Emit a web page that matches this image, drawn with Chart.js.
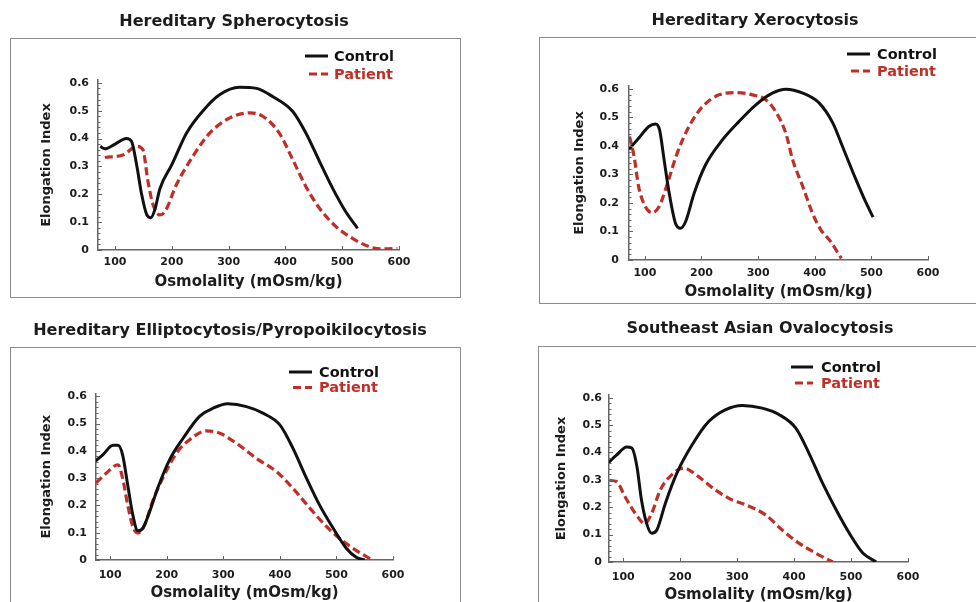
<!DOCTYPE html>
<html>
<head>
<meta charset="utf-8">
<script src="https://cdn.jsdelivr.net/npm/chart.js@4.4.1/dist/chart.umd.min.js"></script>
<style>
  html, body { margin: 0; padding: 0; background: #fff; width: 976px; height: 602px; overflow: hidden; position: relative; }
  .frame { position: absolute; border: 1.5px solid #8c8c8c; box-sizing: border-box; }
  canvas { position: absolute; }
</style>
</head>
<body>
<div class="frame" style="left:10px;top:38px;width:451px;height:260px"></div>
<div class="frame" style="left:539px;top:37px;width:460px;height:267px"></div>
<div class="frame" style="left:10px;top:347px;width:451px;height:300px"></div>
<div class="frame" style="left:538px;top:346px;width:460px;height:300px"></div>
<canvas id="c1" width="488" height="305" style="left:0;top:0"></canvas>
<canvas id="c2" width="488" height="305" style="left:488px;top:0"></canvas>
<canvas id="c3" width="488" height="330" style="left:0;top:305px"></canvas>
<canvas id="c4" width="488" height="330" style="left:488px;top:305px"></canvas>
<script>
// Osmotic gradient ektacytometry curves: elongation index vs osmolality
const osmTicks = [100, 200, 300, 400, 500, 600];
const eiTicks = [0, 0.1, 0.2, 0.3, 0.4, 0.5, 0.6];
const seriesNames = ['Control', 'Patient'];
const panelTitles = [
  'Hereditary Spherocytosis',
  'Hereditary Xerocytosis',
  'Hereditary Elliptocytosis/Pyropoikilocytosis',
  'Southeast Asian Ovalocytosis'
];
const xAxisTitle = 'Osmolality (mOsm/kg)';
const yAxisTitle = 'Elongation Index';

// Hereditary spherocytosis
const hsControlOsm = [74, 82, 100, 120, 129, 138, 147, 156, 163, 170, 179, 200, 226, 255, 284, 319, 349, 378, 413, 436, 460, 483, 506, 527];
const hsControlEI  = [0.372, 0.363, 0.38, 0.40, 0.39, 0.306, 0.198, 0.126, 0.116, 0.144, 0.22, 0.306, 0.42, 0.50, 0.557, 0.584, 0.58, 0.55, 0.497, 0.42, 0.318, 0.222, 0.138, 0.078];
const hsPatientOsm = [82, 115, 138, 149, 158, 167, 179, 188, 208, 237, 267, 302, 337, 360, 389, 413, 436, 460, 489, 518, 547, 571, 597];
const hsPatientEI  = [0.332, 0.342, 0.372, 0.36, 0.246, 0.162, 0.126, 0.138, 0.234, 0.336, 0.42, 0.474, 0.492, 0.48, 0.42, 0.324, 0.228, 0.15, 0.084, 0.042, 0.012, 0.004, 0.006];

// Hereditary xerocytosis
const hxControlOsm = [72, 89, 107, 119, 126, 134, 143, 154, 163, 172, 187, 207, 237, 266, 296, 325, 349, 379, 408, 432, 449, 473, 491, 503];
const hxControlEI  = [0.388, 0.427, 0.468, 0.477, 0.456, 0.351, 0.234, 0.129, 0.111, 0.135, 0.234, 0.333, 0.421, 0.485, 0.544, 0.585, 0.599, 0.585, 0.55, 0.48, 0.398, 0.281, 0.199, 0.15];
const hxPatientOsm = [73, 81, 89, 101, 113, 125, 140, 157, 178, 202, 231, 261, 290, 314, 331, 349, 361, 379, 396, 411, 426, 447];
const hxPatientEI  = [0.433, 0.363, 0.257, 0.187, 0.166, 0.187, 0.269, 0.374, 0.468, 0.538, 0.579, 0.587, 0.579, 0.561, 0.52, 0.444, 0.351, 0.257, 0.164, 0.105, 0.07, 0.006];

// Hereditary elliptocytosis / pyropoikilocytosis
const heControlOsm = [72, 87, 105, 114, 122, 131, 140, 149, 158, 170, 184, 205, 229, 258, 282, 308, 341, 370, 400, 423, 447, 470, 494, 517, 535, 550];
const heControlEI  = [0.359, 0.385, 0.42, 0.42, 0.385, 0.276, 0.166, 0.107, 0.117, 0.178, 0.263, 0.367, 0.446, 0.526, 0.556, 0.572, 0.562, 0.538, 0.495, 0.41, 0.30, 0.202, 0.117, 0.044, 0.01, 0];
const hePatientOsm = [75, 93, 114, 122, 131, 140, 149, 161, 175, 193, 217, 240, 270, 293, 323, 358, 394, 423, 453, 488, 524, 562];
const hePatientEI  = [0.282, 0.318, 0.349, 0.30, 0.202, 0.123, 0.099, 0.129, 0.215, 0.30, 0.391, 0.44, 0.473, 0.465, 0.428, 0.373, 0.324, 0.263, 0.19, 0.111, 0.05, 0.001];

// Southeast Asian ovalocytosis
const saoControlOsm = [72, 88, 106, 115, 124, 132, 141, 150, 159, 174, 194, 221, 250, 279, 309, 344, 374, 403, 426, 450, 474, 497, 521, 544];
const saoControlEI  = [0.359, 0.39, 0.42, 0.416, 0.349, 0.227, 0.141, 0.105, 0.117, 0.215, 0.324, 0.428, 0.513, 0.556, 0.572, 0.562, 0.538, 0.489, 0.398, 0.288, 0.19, 0.105, 0.032, 0.001];
const saoPatientOsm = [76, 88, 103, 121, 138, 150, 165, 182, 206, 232, 262, 291, 315, 350, 379, 409, 438, 468];
const saoPatientEI  = [0.298, 0.294, 0.239, 0.178, 0.141, 0.178, 0.263, 0.312, 0.343, 0.312, 0.263, 0.227, 0.209, 0.172, 0.117, 0.068, 0.032, 0];

const FONT = '"DejaVu Sans", "Liberation Sans", sans-serif';
const CONTROL_COLOR = '#111111';
const PATIENT_COLOR = '#bf2f27';
const AXIS_COLOR = '#666666';
const TEXT_COLOR = '#1c1c1c';

// Panel title, legend and inward tick marks
const decorPlugin = {
  id: 'decor',
  afterDraw(chart, args, o) {
    const ctx = chart.ctx;
    const xs = chart.scales.x, ys = chart.scales.y;
    const area = chart.chartArea;
    ctx.save();

    // inward tick marks (major + minor on the y axis)
    ctx.strokeStyle = AXIS_COLOR;
    ctx.lineWidth = 1;
    ctx.beginPath();
    const step = (eiTicks[1] - eiTicks[0]) / 5;
    const nMinor = Math.round((eiTicks[eiTicks.length - 1] - eiTicks[0]) / step);
    for (let i = 0; i <= nMinor; i++) {
      const py = Math.round(ys.getPixelForValue(eiTicks[0] + i * step)) + 0.5;
      const len = (i % 5 === 0) ? 4 : 2.5;
      ctx.moveTo(area.left, py);
      ctx.lineTo(area.left + len, py);
    }
    osmTicks.forEach(v => {
      const px = Math.round(xs.getPixelForValue(v)) + 0.5;
      ctx.moveTo(px, area.bottom);
      ctx.lineTo(px, area.bottom - 4);
    });
    ctx.stroke();

    // panel title
    ctx.fillStyle = TEXT_COLOR;
    ctx.font = 'bold 16px ' + FONT;
    ctx.textAlign = 'center';
    ctx.textBaseline = 'middle';
    ctx.fillText(o.title, o.titleX, o.titleY);

    // legend
    ctx.font = 'bold 14.5px ' + FONT;
    ctx.textAlign = 'left';
    chart.data.datasets.forEach((ds, i) => {
      const y = o.legY + i * o.legGap;
      ctx.strokeStyle = ds.borderColor;
      ctx.lineWidth = 3;
      ctx.setLineDash(ds.borderDash || []);
      ctx.beginPath();
      ctx.moveTo(o.legX1 + (ds.borderDash ? 4 : 0), y);
      ctx.lineTo(o.legX2, y);
      ctx.stroke();
      ctx.setLineDash([]);
      ctx.fillStyle = ds.borderColor;
      ctx.fillText(ds.label, o.legTextX, y + 1);
    });
    ctx.restore();
  }
};

function points(xs, ys) {
  return xs.map((x, i) => ({ x: x, y: ys[i] }));
}

function makePanel(id, cfg) {
  const Y_AXIS_W = 60, X_AXIS_H = 44;
  new Chart(document.getElementById(id), {
    type: 'line',
    data: {
      datasets: [
        {
          label: seriesNames[0],
          data: points(cfg.controlOsm, cfg.controlEI),
          borderColor: CONTROL_COLOR,
          borderWidth: 3,
          pointRadius: 0,
          cubicInterpolationMode: 'monotone',
          fill: false
        },
        {
          label: seriesNames[1],
          data: points(cfg.patientOsm, cfg.patientEI),
          borderColor: PATIENT_COLOR,
          borderWidth: 3.2,
          borderDash: [8, 4],
          pointRadius: 0,
          cubicInterpolationMode: 'monotone',
          fill: false
        }
      ]
    },
    options: {
      responsive: false,
      animation: false,
      events: [],
      layout: { padding: cfg.padding },
      plugins: {
        legend: { display: false },
        title: { display: false },
        tooltip: { enabled: false },
        decor: cfg.decor
      },
      scales: {
        x: {
          type: 'linear',
          min: cfg.xMin,
          max: 600,
          afterBuildTicks: s => { s.ticks = osmTicks.map(v => ({ value: v })); },
          afterFit: s => { s.height = X_AXIS_H; },
          grid: { display: false, drawTicks: false },
          border: { display: true, color: AXIS_COLOR, width: 1.5 },
          ticks: {
            autoSkip: false,
            maxRotation: 0,
            padding: cfg.xTickPad,
            color: TEXT_COLOR,
            font: { family: FONT, size: 11, weight: 'bold' }
          },
          title: {
            display: true,
            text: xAxisTitle,
            color: TEXT_COLOR,
            font: { family: FONT, size: 15, weight: 'bold', lineHeight: 1 },
            padding: { top: 0, bottom: cfg.xTitlePad }
          }
        },
        y: {
          type: 'linear',
          min: 0,
          max: 0.61,
          afterBuildTicks: s => { s.ticks = eiTicks.map(v => ({ value: v })); },
          afterFit: s => { s.width = Y_AXIS_W; },
          grid: { display: false, drawTicks: false },
          border: { display: true, color: AXIS_COLOR, width: 1.5 },
          ticks: {
            autoSkip: false,
            padding: cfg.yTickPad,
            color: TEXT_COLOR,
            font: { family: FONT, size: 11, weight: 'bold' },
            callback: v => String(Math.round(v * 10) / 10)
          },
          title: {
            display: true,
            text: yAxisTitle,
            color: TEXT_COLOR,
            font: { family: FONT, size: 13, weight: 'bold', lineHeight: 1 },
            padding: { top: cfg.yTitlePad, bottom: 0 }
          }
        }
      }
    },
    plugins: [decorPlugin]
  });
}

makePanel('c1', {
  controlOsm: hsControlOsm, controlEI: hsControlEI,
  patientOsm: hsPatientOsm, patientEI: hsPatientEI,
  xMin: 70,
  padding: { left: 38, right: 89, top: 80, bottom: 11 },
  xTickPad: 6, yTickPad: 9, xTitlePad: 4.5, yTitlePad: 2.5,
  decor: { title: panelTitles[0], titleX: 234, titleY: 22,
           legX1: 305, legX2: 328, legTextX: 334, legY: 56, legGap: 18 }
});

makePanel('c2', {
  controlOsm: hxControlOsm, controlEI: hxControlEI,
  patientOsm: hxPatientOsm, patientEI: hxPatientEI,
  xMin: 72,
  padding: { left: 81, right: 48, top: 86, bottom: 1 },
  xTickPad: 6.4, yTickPad: 10, xTitlePad: 4.5, yTitlePad: 4.5,
  decor: { title: panelTitles[1], titleX: 267, titleY: 21,
           legX1: 359, legX2: 382, legTextX: 389, legY: 54, legGap: 17 }
});

makePanel('c3', {
  controlOsm: heControlOsm, controlEI: heControlEI,
  patientOsm: hePatientOsm, patientEI: hePatientEI,
  xMin: 75,
  padding: { left: 36, right: 95, top: 88.5, bottom: 31 },
  xTickPad: 8.4, yTickPad: 9, xTitlePad: 3.5, yTitlePad: 4.5,
  decor: { title: panelTitles[2], titleX: 230, titleY: 26,
           legX1: 289, legX2: 312, legTextX: 319, legY: 67, legGap: 15.5 }
});

makePanel('c4', {
  controlOsm: saoControlOsm, controlEI: saoControlEI,
  patientOsm: saoPatientOsm, patientEI: saoPatientEI,
  xMin: 75,
  padding: { left: 61, right: 68, top: 90, bottom: 29 },
  xTickPad: 8.4, yTickPad: 7, xTitlePad: 3.5, yTitlePad: 6.5,
  decor: { title: panelTitles[3], titleX: 272, titleY: 24,
           legX1: 303, legX2: 325, legTextX: 333, legY: 62, legGap: 16 }
});
</script>
</body>
</html>
